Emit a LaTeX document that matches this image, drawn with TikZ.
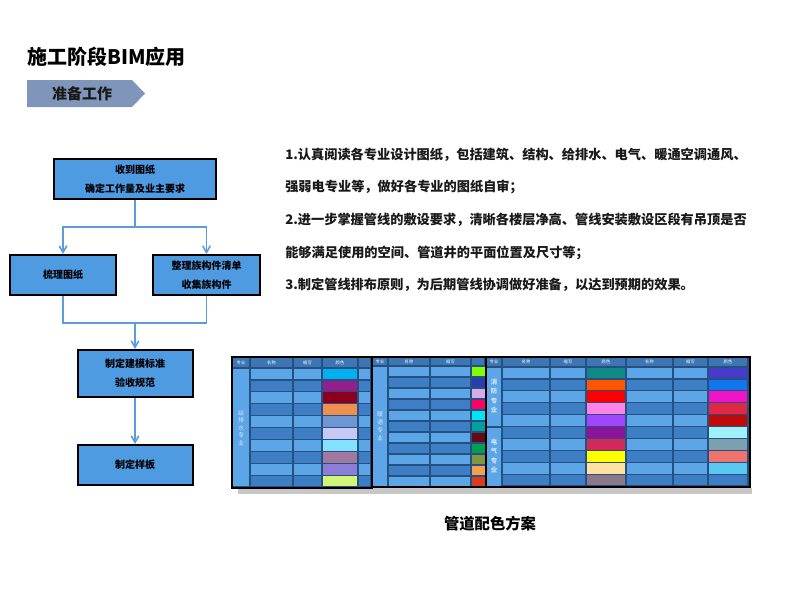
\documentclass[tikz,border=0pt]{standalone}
\usepackage{fontspec}
\newfontfamily\cjk{Noto Sans CJK SC}
\usetikzlibrary{arrows, positioning}
\tikzset{>=angle 60}

\definecolor{boxblue}{RGB}{79,155,226}
\definecolor{linkblue}{RGB}{91,157,220}
\definecolor{tagblue}{RGB}{127,150,186}
\definecolor{celllight}{RGB}{92,165,230}
\definecolor{celldark}{RGB}{62,126,196}
\definecolor{cellgrid}{RGB}{36,80,130}
\definecolor{headblue}{RGB}{62,118,180}
\definecolor{labelpale}{RGB}{210,228,246}

\tikzset{
  flowbox/.style={draw=black, line width=1.5pt, fill=boxblue, align=center, inner sep=0pt,
    font=\cjk\bfseries\fontsize{7.5pt}{14.25pt}\selectfont},
  link/.style={color=linkblue, line width=1.2pt},
  para/.style={anchor=west, inner sep=0pt, text=black!90,
    font=\cjk\bfseries\fontsize{9.9pt}{12pt}\selectfont},
  headtxt/.style={inner sep=0pt, text=white, font=\cjk\fontsize{3.2pt}{4pt}\selectfont},
  grouptxt/.style={inner sep=0pt, align=center, text=labelpale,
    font=\cjk\fontsize{4.5pt}{5.6pt}\selectfont},
  tableframe/.style={draw=black, line width=1.5pt}
}

\begin{document}
\begin{tikzpicture}[x=0.75pt, y=-0.75pt]
\useasboundingbox (0,0) rectangle (800,600);

% title and tag
\node [anchor=west, inner sep=0pt, font=\cjk\bfseries\fontsize{15pt}{18pt}\selectfont] (title) at (27,57) {施工阶段BIM应用};
\fill[tagblue] (27,80) -- (132,80) -- (145,93.5) -- (132,107) -- (27,107) -- cycle;
\node [inner sep=0pt, text=black!90, font=\cjk\bfseries\fontsize{11.25pt}{13pt}\selectfont] (tag) at (82,94) {准备工作};

% flow chart
\node [flowbox, minimum width=121.5pt, minimum height=30pt] (box1) at (135,179) {收到图纸\\确定工作量及业主要求};
\node [flowbox, minimum width=79.5pt, minimum height=30pt] (box2) at (63,275) {梳理图纸};
\node [flowbox, minimum width=80.25pt, minimum height=30pt] (box3) at (206.5,275) {整理族构件清单\\收集族构件};
\node [flowbox, minimum width=86.25pt, minimum height=35.25pt] (box4) at (135,373.5) {制定建模标准\\验收规范};
\node [flowbox, minimum width=86.25pt, minimum height=30pt] (box5) at (135,465) {制定样板};

\coordinate (split) at (135,227);
\coordinate (join) at (135,323);
\draw[link] (box1.south) -- (split);
\draw[->, link] (split) -| (box2.north);
\draw[->, link] (split) -| (box3.north);
\draw[link] (box2.south) |- (join);
\draw[link] (box3.south) |- (join);
\draw[->, link] (join) -- (box4.north);
\draw[->, link] (box4.south) -- (box5.north);

% text
\node [para] (para1) at (285,155) {1.认真阅读各专业设计图纸，包括建筑、结构、给排水、电气、暖通空调通风、};
\node [para] (para2) at (285,187) {强弱电专业等，做好各专业的图纸自审；};
\node [para] (para3) at (285,220) {2.进一步掌握管线的敷设要求，清晰各楼层净高、管线安装敷设区段有吊顶是否};
\node [para] (para4) at (285,253) {能够满足使用的空间、管道井的平面位置及尺寸等；};
\node [para] (para5) at (285,285) {3.制定管线排布原则，为后期管线协调做好准备，以达到预期的效果。};

% colour tables
\fill[black!22] (238,488) rectangle (752,494);
\fill[cellgrid] (232,357) rectangle (750,488);

% left table
\foreach \xa/\xb in {232/250,250/293,293/322,322/358,358/371}
  \fill[headblue] (\xa+0.6,357.6) rectangle (\xb-0.6,367.4);
\fill[celllight] (232.6,368.6) rectangle (249.4,486.4);
\foreach \ra/\ga/\ba [count=\i] in {0/176/240,150/30/140,140/0/30,240/144/80,110/150/210,200/200/245,130/225/255,160/120/160,140/125/215,210/245/120}{
  \pgfmathsetmacro\ya{368+(\i-1)*11.9}
  \pgfmathsetmacro\yb{\ya+11.9}
  \ifodd\i\def\rowc{celllight}\else\def\rowc{celldark}\fi
  \definecolor{swatch}{RGB}{\ra,\ga,\ba}
  \foreach \xa/\xb in {250/293,293/322,358/371}
    \fill[\rowc] (\xa+0.6,\ya+0.6) rectangle (\xb-0.6,\yb-0.6);
  \fill[swatch] (322.6,\ya+0.6) rectangle (357.4,\yb-0.6);
}
\foreach \t/\x [count=\i] in {专业/241,名称/271.5,缩写/307.5,颜色/340}
  \node [headtxt] (lhead\i) at (\x,362.5) {\t};
\node [grouptxt, font=\cjk\fontsize{4.5pt}{5.6pt}\selectfont] (lgroup) at (241,428) {给\\排\\水\\专\\业};

% middle table
\foreach \xa/\xb in {372/388,388/430,430/471,471/485}
  \fill[headblue] (\xa+0.6,357.6) rectangle (\xb-0.6,365.4);
\fill[celllight] (372.6,366.6) rectangle (387.4,486.4);
\foreach \ra/\ga/\ba [count=\i] in {128/255/0,40/60/170,215/170/235,255/0/100,0/230/240,0/160/160,100/10/20,0/160/80,130/150/60,245/160/80,220/60/30}{
  \pgfmathsetmacro\ya{366+(\i-1)*11}
  \pgfmathsetmacro\yb{\ya+11}
  \ifodd\i\def\rowc{celllight}\else\def\rowc{celldark}\fi
  \definecolor{swatch}{RGB}{\ra,\ga,\ba}
  \foreach \xa/\xb in {388/430,430/471}
    \fill[\rowc] (\xa+0.6,\ya+0.6) rectangle (\xb-0.6,\yb-0.6);
  \fill[swatch] (471.6,\ya+0.6) rectangle (485,\yb-0.6);
}
\foreach \t/\x [count=\i] in {专业/380,名称/409,缩写/450.5}
  \node [headtxt] (mhead\i) at (\x,361.5) {\t};
\node [grouptxt, font=\cjk\fontsize{4.5pt}{6pt}\selectfont] (mgroup) at (380,426) {暖\\通\\专\\业};

% right table
\foreach \xa/\xb in {486/502,502/550,550/586,586/626,626/673,673/708,708/748}
  \fill[headblue] (\xa+0.6,357.6) rectangle (\xb-0.6,366.4);
\fill[celllight] (486.6,367.6) rectangle (501.4,426.4);
\fill[celllight] (486.6,427.6) rectangle (501.4,486.4);
\foreach \ra/\ga/\ba/\rb/\gb/\bb [count=\i] in {17/136/136/70/60/200,255/85/0/17/117/237,255/0/0/240/20/200,255/130/230/223/40/70,160/70/255/190/10/10,140/20/155/160/240/250,210/40/90/125/160/175,255/255/0/240/115/110,255/225/160/90/200/240,140/120/135/62/126/196}{
  \pgfmathsetmacro\ya{367+(\i-1)*11.9}
  \pgfmathsetmacro\yb{\ya+11.9}
  \ifodd\i\def\rowc{celllight}\else\def\rowc{celldark}\fi
  \definecolor{swatch}{RGB}{\ra,\ga,\ba}
  \definecolor{swatchb}{RGB}{\rb,\gb,\bb}
  \foreach \xa/\xb in {502/550,550/586,626/673,673/708}
    \fill[\rowc] (\xa+0.6,\ya+0.6) rectangle (\xb-0.6,\yb-0.6);
  \fill[swatch] (586.6,\ya+0.6) rectangle (625.4,\yb-0.6);
  \fill[swatchb] (708.6,\ya+0.6) rectangle (747.4,\yb-0.6);
}
\foreach \t/\x [count=\i] in {专业/494,名称/526,缩写/568,颜色/606,名称/649.5,缩写/690.5,颜色/728}
  \node [headtxt] (rhead\i) at (\x,362) {\t};
\node [grouptxt, font=\cjk\bfseries\fontsize{4.8pt}{7pt}\selectfont] (rgroup1) at (494,396) {消\\防\\专\\业};
\node [grouptxt, font=\cjk\bfseries\fontsize{4.8pt}{7pt}\selectfont] (rgroup2) at (494,456) {电\\气\\专\\业};

\draw[tableframe] (232,357) rectangle (372,488);
\draw[tableframe] (372,357) rectangle (486,487);
\draw[tableframe] (486,357) rectangle (750,487);

\node [inner sep=0pt, font=\cjk\bfseries\fontsize{11.5pt}{13pt}\selectfont] (caption) at (490,524) {管道配色方案};

\end{tikzpicture}
\end{document}
